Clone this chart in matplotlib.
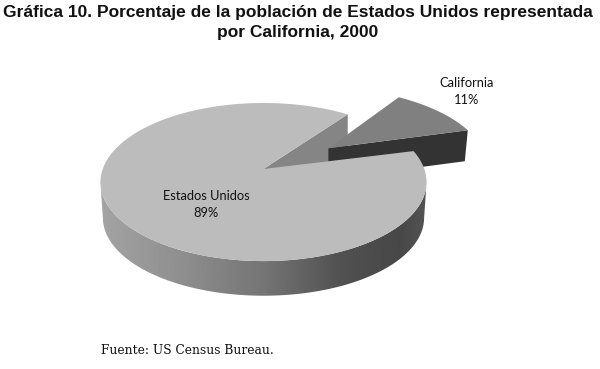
import numpy as np
import matplotlib
matplotlib.use('Agg')
import matplotlib.pyplot as plt
from matplotlib.patches import Polygon

categories = ['California', 'Estados Unidos']
values = [11, 89]
title_lines = ['Gráfica 10. Porcentaje de la población de Estados Unidos representada',
               'por California, 2000']
source = 'Fuente: US Census Bureau.'

# projected pie geometry, in pixels of the 600x369 picture
cx, cy = 263.5, 169
a, b, k = 160.8, 76.9, 0.165
depth = 36
start = 14
explode = 0.508
turn = 1.5  # the exploded slice sits slightly rotated


def project(x, y, drop=0, scale=1.0):
    # simple perspective for a point of the unit disc, y goes away from the viewer
    d = 1 + k * y
    return cx + scale * a * x / d, cy + drop - scale * b * y / d


def rim(t1, t2, ox=0, oy=0, drop=0, scale=1.0):
    t = np.radians(np.linspace(t1, t2, 200))
    px, py = project(ox + np.cos(t), oy + np.sin(t), drop, scale)
    return np.column_stack([px, py])


fig = plt.figure(figsize=(6, 3.69), dpi=100)
ax = fig.add_axes([0, 0, 1, 1])

sweep = values[0] / sum(values) * 360
end = start + sweep
mid = np.radians(start + sweep / 2)
ox, oy = explode * np.cos(mid), explode * np.sin(mid)

# cut face of the big slice
apex = project(0, 0)
edge = project(np.cos(np.radians(end)), np.sin(np.radians(end)))
ax.add_patch(Polygon([apex, edge, (edge[0], edge[1] + depth), (apex[0], apex[1] + depth)],
                     fc='#858585', ec='none', zorder=1))

# exploded slice: front cut, then top
p0 = project(ox, oy)
p1 = project(ox + np.cos(np.radians(start + turn)), oy + np.sin(np.radians(start + turn)))
ax.add_patch(Polygon([p0, p1, (p1[0] - 3, p1[1] + 31), (p0[0], p0[1] + 31)],
                     fc='#333333', ec='none', zorder=2))
ax.add_patch(Polygon(np.vstack([[p0], rim(start + turn, end + turn, ox, oy)]),
                     fc='#808080', ec='none', zorder=3))

# side wall of the big slice with a horizontal gradient
side = np.vstack([rim(190, 350), rim(190, 350, drop=depth, scale=0.985)[::-1]])
stops_x = [100, 180, 263, 340, 400, 427]
stops_c = [0.64, 0.56, 0.46, 0.32, 0.28, 0.33]
grad = np.interp(np.linspace(100, 427, 330), stops_x, stops_c)[None, :]
im = ax.imshow(grad, extent=(100, 427, 300, 100), cmap='gray', vmin=0, vmax=1,
               aspect='auto', zorder=4)
clip = Polygon(side, transform=ax.transData, fc='none', ec='none')
ax.add_patch(clip)
im.set_clip_path(clip)

# top of the big slice
ax.add_patch(Polygon(np.vstack([[apex], rim(end, start + 360)]),
                     fc='#bcbcbc', ec='none', zorder=5))

ax.set_xlim(0, 600)
ax.set_ylim(369, 0)
ax.axis('off')

# titles and labels
ax.text(298, 12, title_lines[0], family='Liberation Sans', weight='bold', fontsize=12.55,
        ha='center', va='center', color='#111111', zorder=6)
ax.text(298, 32, title_lines[1], family='Liberation Sans', weight='bold', fontsize=12.55,
        ha='center', va='center', color='#111111', zorder=6)
ax.text(467, 83, categories[0], family='Lato', fontsize=9.3, ha='center', va='center', color='#111111', zorder=6)
ax.text(467, 100, f'{values[0]}%', family='Lato', fontsize=9.3, ha='center', va='center', color='#111111', zorder=6)
ax.text(206, 196, categories[1], family='Lato', fontsize=9.3, ha='center', va='center', color='#111111', zorder=6)
ax.text(206, 213, f'{values[1]}%', family='Lato', fontsize=9.3, ha='center', va='center', color='#111111', zorder=6)
ax.text(101, 350, source, family='DejaVu Serif', fontsize=8.8, ha='left', va='center', color='#111111', zorder=6)

fig.savefig('out.png', dpi=100, facecolor='white')
